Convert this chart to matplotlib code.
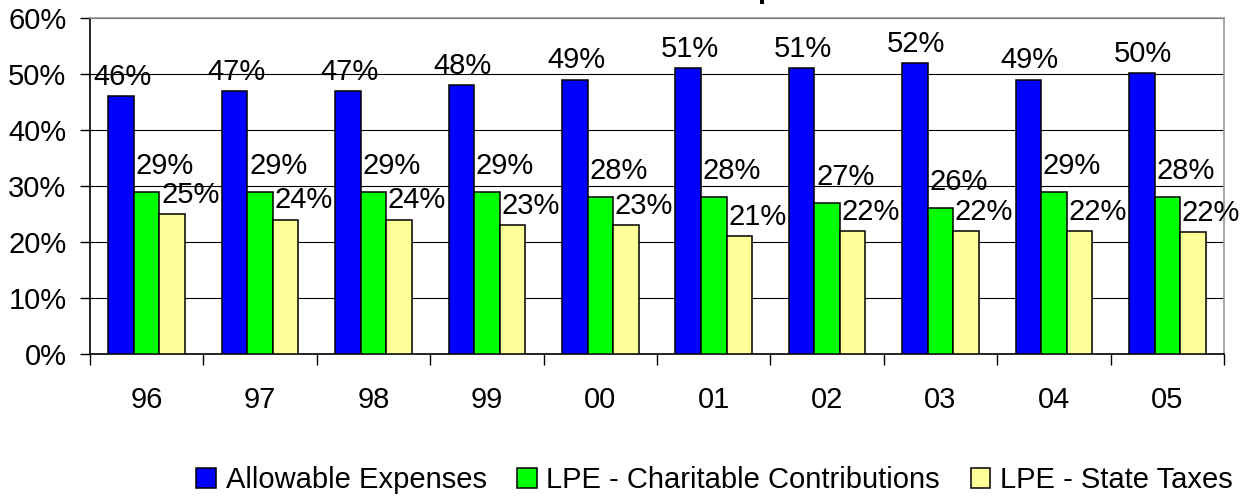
#!/usr/bin/env python3

#Grouped bar chart: allowable expenses vs LPE shares by year

###########################
####### PREPARATION #######
###########################

import numpy as np
import matplotlib
matplotlib.use("Agg")
import matplotlib.pyplot as plt
from matplotlib.ticker import FixedLocator

plt.rcParams["font.family"] = ["Liberation Sans", "DejaVu Sans"]

###########################
########## DATA ###########
###########################

years = ["96", "97", "98", "99", "00", "01", "02", "03", "04", "05"]

allowable_expenses = [46, 47, 47, 48, 49, 51, 51, 52, 49, 50.2]
lpe_charitable = [29, 29, 29, 29, 28, 28, 27, 26, 29, 28.1]
lpe_state_taxes = [25, 24, 24, 23, 23, 21, 22, 22, 22, 21.7]

series_names = [
    "Allowable Expenses",
    "LPE - Charitable Contributions",
    "LPE - State Taxes"
]

###########################
########### PLOT ##########
###########################

font_size = 21

fig = plt.figure(figsize=(12.47, 4.98), dpi=100)
ax = fig.add_axes([0.0722, 0.2892, 0.9094, 0.6747])

x = np.arange(len(years))
bar_width = 0.225

all_series = [allowable_expenses, lpe_charitable, lpe_state_taxes]
colors = ["#0000FF", "#00FF00", "#FFFF99"]
offsets = [-bar_width, 0, bar_width]

#Label offsets in points (dx, dy above bar top)
label_shift = [(1, 8), (13, 13), (13, 8)]

for values, name, color, offset, shift in zip(all_series, series_names, colors, offsets, label_shift):
    bars = ax.bar(
        x + offset,
        values,
        width=bar_width,
        color=color,
        edgecolor="black",
        linewidth=1.1,
        label=name,
        zorder=3
    )
    for bar, value in zip(bars, values):
        ax.annotate(
            f"{round(value):.0f}%",
            xy=(bar.get_x() + bar.get_width() / 2, bar.get_height()),
            xytext=shift,
            textcoords="offset points",
            ha="center",
            va="baseline",
            fontsize=font_size,
            zorder=4
        )

#Axis limits and ticks
ax.set_xlim(-0.5, len(years) - 0.5)
ax.set_ylim(0, 60)
ax.set_yticks(range(0, 61, 10))
ax.set_yticklabels([f"{v}%" for v in range(0, 61, 10)], fontsize=font_size)

ax.set_xticks(x)
ax.set_xticklabels(years, fontsize=font_size)
ax.xaxis.set_minor_locator(FixedLocator(np.arange(-0.5, len(years), 1.0)))
ax.tick_params(axis="x", which="major", length=0, pad=23)
ax.tick_params(axis="x", which="minor", length=8, width=1, direction="out", color="black")
ax.tick_params(axis="y", which="major", length=7, width=1, direction="out", pad=10)

#Gridlines and frame
ax.grid(axis="y", color="black", linewidth=0.8, zorder=0)
ax.set_axisbelow(True)
ax.spines["left"].set_color("black")
ax.spines["bottom"].set_color("black")
ax.spines["top"].set_color("#999999")
ax.spines["right"].set_color("#999999")
for side in ["left", "bottom", "top", "right"]:
    ax.spines[side].set_linewidth(1.2)

#Legend below the plot
fig.legend(
    loc="center",
    bbox_to_anchor=(0.573, 0.036),
    ncol=3,
    frameon=False,
    fontsize=font_size,
    handlelength=0.66,
    handleheight=0.66,
    handletextpad=0.34,
    columnspacing=1.05,
    borderaxespad=0
)

#Title, mostly outside the visible area
fig.text(757 / 1247, 1 + 2 / 498, "p", ha="left", va="baseline",
         fontsize=font_size, fontweight="bold")

#Save plot
fig.savefig("out.png", dpi=100)
plt.close(fig)
